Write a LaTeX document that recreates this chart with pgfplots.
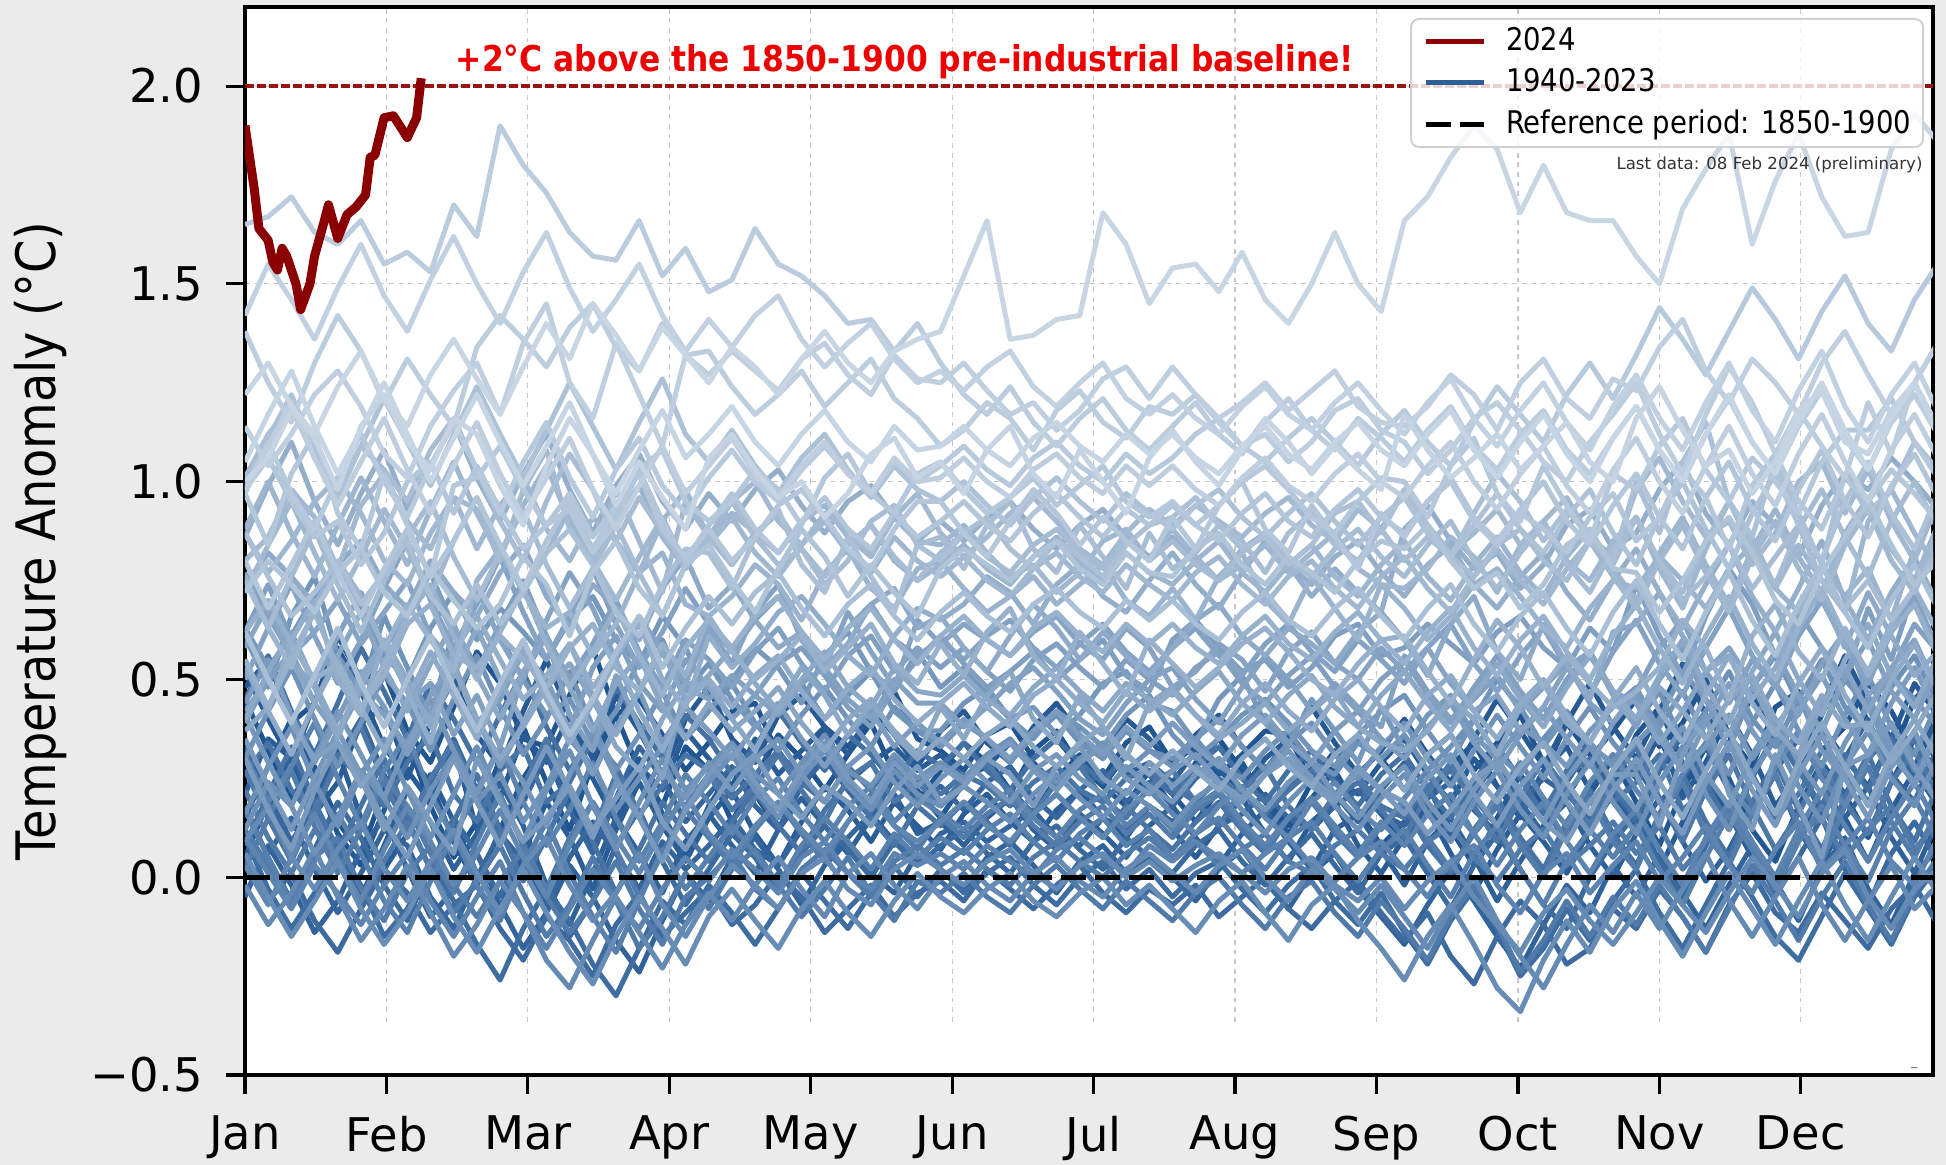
\documentclass[border=0pt]{standalone}
\usepackage{fontspec}
\setmainfont{DejaVu Sans}
\newfontfamily\condfont{DejaVu Sans}[FakeStretch=0.88]
\usepackage{pgfplots}
\usepackage{pgfplotstable}
\pgfplotsset{compat=1.18}
\definecolor{figbg}{RGB}{235,235,235}
\definecolor{cDark}{RGB}{30,84,145}
\definecolor{cLight}{RGB}{200,214,228}
\definecolor{c2024}{RGB}{139,0,0}
\definecolor{cRefRed}{RGB}{150,20,20}
\definecolor{cLeg}{RGB}{45,95,150}
\definecolor{annRed}{RGB}{238,0,0}
\tikzset{yrline/.style={line width=1.25pt, line join=round}}

% daily global mean anomaly (deg C vs 1850-1900), sampled every 5 days; one row per year
\pgfplotstableread{
year 0 5 10 15 20 25 30 35 40 45 50 55 60 65 70 75 80 85 90 95 100 105 110 115 120 125 130 135 140 145 150 155 160 165 170 175 180 185 190 195 200 205 210 215 220 225 230 235 240 245 250 255 260 265 270 275 280 285 290 295 300 305 310 315 320 325 330 335 340 345 350 355 360 365
y1940 0.45 0.32 0.20 0.28 0.14 0.06 0.22 0.35 0.18 0.05  0.14 0.30 0.38 0.24 0.12 0.29 0.41 0.27 0.18 0.33  0.27 0.14 0.25 0.36 0.30 0.22 0.31 0.39 0.26 0.19  0.27 0.34 0.29 0.21 0.32 0.37 0.28 0.23 0.31 0.26  0.18 0.29 0.35 0.27 0.20 0.13 0.24 0.32 0.25 0.16  0.09 0.20 0.28 0.34 0.23 0.15 0.26 0.39 0.31 0.22  0.36 0.43 0.29 0.21 0.34 0.46 0.38 0.27 0.41 0.53  0.39 0.30 0.45 0.51
y1942 0.15 0.28 0.40 0.26 0.11 0.03 0.17 0.31 0.24 0.09  -0.02 0.12 0.25 0.34 0.20 0.08 0.19 0.30 0.16 0.05  0.18 0.27 0.21 0.12 0.24 0.33 0.25 0.17 0.28 0.22  0.15 0.24 0.30 0.22 0.16 0.25 0.31 0.23 0.18 0.27  0.21 0.14 0.22 0.29 0.19 0.11 0.20 0.27 0.17 0.08  0.14 0.23 0.12 0.03 0.15 0.26 0.18 0.09 0.21 0.30  0.19 0.08 0.22 0.33 0.25 0.12 0.04 0.18 0.29 0.21  0.10 0.24 0.35 0.26
y1944 0.52 0.40 0.29 0.44 0.58 0.47 0.33 0.25 0.39 0.50  0.36 0.28 0.42 0.55 0.41 0.30 0.46 0.37 0.26 0.40  0.48 0.35 0.29 0.41 0.46 0.38 0.31 0.43 0.36 0.28  0.37 0.42 0.34 0.29 0.38 0.44 0.36 0.30 0.40 0.35  0.28 0.36 0.41 0.33 0.27 0.35 0.43 0.34 0.26 0.32  0.40 0.31 0.24 0.35 0.45 0.37 0.28 0.39 0.49 0.38  0.30 0.42 0.54 0.41 0.33 0.47 0.39 0.28 0.43 0.56  0.44 0.35 0.49 0.41
y1946 0.30 0.18 0.07 0.20 0.32 0.15 0.02 0.11 0.26 0.14  0.01 -0.08 0.06 0.19 0.10 -0.03 0.12 0.24 0.13 0.04  0.15 0.22 0.11 0.03 0.14 0.23 0.17 0.09 0.19 0.13  0.07 0.16 0.21 0.14 0.09 0.17 0.22 0.15 0.10 0.18  0.12 0.05 0.13 0.20 0.11 0.04 0.14 0.19 0.08 0.01  0.10 0.17 0.06 -0.04 0.07 0.16 0.09 0.01 0.12 0.21  0.13 0.02 0.14 0.25 0.16 0.05 -0.03 0.10 0.22 0.15  0.04 0.17 0.27 0.18
y1948 0.05 0.19 0.31 0.17 0.06 -0.05 0.08 0.22 0.14 0.02  0.11 0.24 0.13 -0.02 -0.12 0.01 0.15 0.06 -0.04 0.09  0.16 0.08 0.01 0.12 0.20 0.13 0.06 0.15 0.21 0.11  0.14 0.08 0.15 0.20 0.12 0.07 0.16 0.11 0.05 0.13  0.18 0.10 0.03 0.11 0.17 0.09 0.02 0.12 0.16 0.07  -0.02 0.09 0.15 0.05 -0.06 0.04 0.13 0.19 0.08 0.00  0.11 0.20 0.09 -0.01 0.07 0.18 0.26 0.12 0.03 0.15  0.23 0.10 0.01 0.14
y1950 -0.05 0.08 -0.02 -0.14 -0.06 0.07 0.15 0.02 -0.10 -0.03  0.06 -0.07 -0.18 -0.09 0.03 -0.05 -0.16 -0.24 -0.11 0.01  -0.06 0.05 0.10 0.02 -0.07 0.03 0.09 0.01 -0.04 0.06  0.02 -0.03 0.05 0.09 0.03 -0.04 0.04 0.08 0.01 0.05  0.00 -0.06 0.02 0.07 -0.01 -0.08 0.01 0.06 -0.03 -0.10  -0.17 -0.07 0.02 -0.06 -0.15 -0.23 -0.12 -0.02 -0.09 0.03  -0.05 0.06 -0.04 -0.13 -0.02 0.08 -0.01 -0.11 0.02 0.10  -0.03 -0.12 0.01 0.07
y1952 0.33 0.21 0.09 0.18 0.30 0.40 0.26 0.13 0.24 0.35  0.22 0.10 0.19 0.31 0.17 0.06 0.20 0.33 0.25 0.14  0.21 0.28 0.18 0.12 0.23 0.30 0.22 0.15 0.25 0.19  0.23 0.17 0.24 0.28 0.20 0.15 0.22 0.27 0.19 0.24  0.18 0.25 0.30 0.22 0.16 0.23 0.28 0.21 0.14 0.22  0.29 0.18 0.10 0.21 0.30 0.19 0.11 0.24 0.33 0.22  0.14 0.27 0.36 0.23 0.12 0.25 0.37 0.28 0.16 0.30  0.40 0.26 0.19 0.33
y1954 0.18 0.05 -0.06 0.07 0.19 0.10 -0.02 -0.11 0.03 0.15  0.06 -0.05 0.09 -0.03 -0.15 -0.06 0.08 0.17 0.04 -0.07  0.02 0.11 0.05 -0.04 0.06 0.13 0.07 0.00 0.09 0.03  0.08 0.12 0.06 0.01 0.09 0.13 0.07 0.02 0.10 0.05  0.01 0.08 0.12 0.04 -0.02 0.05 0.11 0.03 -0.04 0.06  0.10 0.01 -0.08 0.03 0.11 0.02 -0.07 -0.13 0.00 0.09  0.16 0.04 -0.05 0.08 0.19 0.07 -0.04 0.05 0.15 0.02  -0.07 0.06 0.14 0.04
y1956 0.10 -0.03 -0.13 -0.04 0.07 -0.02 -0.15 -0.08 0.04 -0.06  -0.17 -0.26 -0.13 -0.03 -0.11 -0.22 -0.30 -0.18 -0.06 -0.12  -0.02 -0.09 -0.17 -0.08 0.01 -0.06 -0.13 -0.04 0.03 -0.05  0.02 -0.04 0.01 0.05 -0.02 -0.07 0.00 0.04 -0.03 0.02  -0.05 0.01 0.04 -0.03 -0.09 -0.02 0.03 -0.06 -0.12 -0.04  -0.14 -0.22 -0.11 -0.03 -0.13 -0.25 -0.18 -0.08 -0.16 -0.06  0.02 -0.09 -0.18 -0.07 0.04 -0.05 -0.15 -0.21 -0.10 0.01  -0.08 -0.17 -0.05 0.03
y1958 0.45 0.56 0.42 0.31 0.44 0.58 0.47 0.35 0.49 0.40  0.29 0.41 0.52 0.38 0.27 0.36 0.48 0.39 0.30 0.41  0.35 0.26 0.33 0.42 0.34 0.27 0.36 0.31 0.24 0.32  0.28 0.34 0.27 0.22 0.30 0.35 0.29 0.24 0.31 0.26  0.21 0.28 0.33 0.25 0.19 0.27 0.32 0.24 0.18 0.26  0.31 0.22 0.15 0.24 0.33 0.25 0.16 0.27 0.34 0.23  0.15 0.28 0.37 0.24 0.13 0.26 0.36 0.27 0.18 0.31  0.22 0.35 0.27 0.19
y1960 0.08 0.21 0.33 0.19 0.07 0.18 0.30 0.15 0.02 0.14  0.26 0.12 -0.01 0.10 0.22 0.09 -0.04 0.07 0.19 0.11  0.04 0.14 0.22 0.13 0.06 0.17 0.24 0.15 0.08 0.18  0.13 0.19 0.14 0.08 0.16 0.21 0.15 0.10 0.18 0.12  0.07 0.14 0.19 0.12 0.06 0.15 0.20 0.11 0.05 0.13  0.18 0.08 0.01 0.12 0.20 0.10 0.02 0.14 0.22 0.11  0.03 0.16 0.26 0.14 0.05 0.19 0.29 0.17 0.07 0.20  0.31 0.18 0.09 0.23
y1962 0.27 0.15 0.04 0.17 0.29 0.38 0.24 0.12 0.25 0.34  0.20 0.09 0.23 0.35 0.21 0.11 0.26 0.16 0.05 0.18  0.26 0.17 0.23 0.31 0.22 0.14 0.25 0.29 0.19 0.24  0.18 0.25 0.29 0.21 0.16 0.24 0.28 0.20 0.15 0.23  0.27 0.19 0.13 0.22 0.28 0.18 0.12 0.21 0.26 0.17  0.10 0.21 0.29 0.18 0.09 0.20 0.30 0.22 0.13 0.25  0.33 0.20 0.09 0.22 0.31 0.18 0.07 0.16 0.28 0.19  0.11 0.24 0.32 0.21
y1964 0.22 0.10 0.01 0.12 0.05 -0.06 0.04 0.14 0.02 -0.09  -0.01 0.08 -0.04 -0.15 -0.07 0.05 -0.06 -0.18 -0.10 0.01  -0.08 0.02 0.07 -0.02 -0.10 -0.03 0.05 -0.04 -0.11 -0.01  -0.04 0.01 -0.05 -0.09 -0.02 0.03 -0.03 -0.08 -0.01 -0.06  -0.11 -0.04 0.00 -0.07 -0.13 -0.05 -0.01 -0.09 -0.15 -0.06  -0.13 -0.21 -0.10 -0.02 -0.12 -0.24 -0.16 -0.06 -0.15 -0.05  -0.12 -0.02 -0.10 -0.19 -0.08 0.03 -0.06 -0.16 -0.05 0.04  -0.07 -0.16 -0.04 0.05
y1966 0.02 0.15 0.27 0.13 0.01 0.12 0.25 0.18 0.06 -0.04  0.09 0.21 0.08 -0.03 0.10 0.19 0.07 -0.05 0.06 0.17  0.10 0.03 0.12 0.19 0.11 0.04 0.14 0.21 0.13 0.07  0.15 0.10 0.16 0.20 0.13 0.08 0.14 0.18 0.11 0.16  0.10 0.17 0.21 0.13 0.07 0.15 0.19 0.12 0.05 0.13  0.19 0.10 0.02 0.11 0.18 0.08 0.00 0.12 0.20 0.09  0.02 0.15 0.24 0.11 0.03 0.16 0.26 0.13 0.04 0.18  0.28 0.14 0.05 0.17
y1968 0.17 0.05 -0.07 0.04 0.16 0.06 -0.06 -0.14 -0.01 0.11  -0.02 -0.11 0.03 0.14 0.01 -0.10 -0.19 -0.06 0.07 -0.03  0.05 0.13 0.06 -0.02 0.08 0.15 0.09 0.02 0.11 0.05  0.10 0.06 0.12 0.16 0.09 0.04 0.11 0.15 0.08 0.12  0.05 0.11 0.15 0.08 0.02 0.10 0.14 0.06 -0.01 0.07  0.12 0.03 -0.05 0.06 0.13 0.02 -0.07 0.04 0.12 0.05  0.13 0.02 -0.07 0.05 0.16 0.07 -0.03 0.09 0.18 0.08  -0.01 0.12 0.20 0.09
y1970 0.31 0.19 0.28 0.39 0.25 0.13 0.27 0.36 0.21 0.10  0.22 0.33 0.19 0.08 0.17 0.29 0.15 0.04 0.14 0.26  0.19 0.11 0.20 0.25 0.16 0.09 0.18 0.23 0.14 0.20  0.16 0.12 0.18 0.22 0.15 0.10 0.17 0.21 0.13 0.18  0.12 0.18 0.22 0.14 0.08 0.15 0.20 0.13 0.06 0.14  0.08 0.16 0.21 0.11 0.03 0.12 0.19 0.09 0.01 0.11  0.17 0.07 -0.02 0.10 0.19 0.09 0.00 0.12 0.22 0.13  0.04 0.15 0.24 0.13
y1972 0.03 -0.07 0.05 0.16 0.04 -0.06 0.07 0.18 0.09 -0.02  0.06 0.17 0.05 -0.05 0.08 0.19 0.10 0.01 0.12 0.21  0.11 0.05 0.13 0.19 0.12 0.06 0.14 0.20 0.13 0.09  0.14 0.19 0.13 0.09 0.16 0.21 0.15 0.10 0.17 0.22  0.16 0.11 0.18 0.23 0.15 0.10 0.19 0.24 0.17 0.12  0.20 0.27 0.18 0.11 0.21 0.29 0.20 0.13 0.24 0.31  0.22 0.15 0.26 0.34 0.23 0.16 0.28 0.37 0.25 0.18  0.30 0.39 0.27 0.34
y1974 -0.02 -0.12 -0.04 0.07 -0.05 -0.16 -0.08 0.03 -0.09 -0.20  -0.12 -0.01 -0.09 -0.21 -0.28 -0.16 -0.05 -0.14 -0.23 -0.12  -0.04 -0.11 -0.02 0.05 -0.03 -0.10 0.01 0.06 -0.02 -0.08  0.00 0.04 -0.02 -0.06 0.01 0.05 -0.01 -0.05 0.02 0.06  0.01 -0.04 0.03 0.07 0.00 -0.06 0.02 -0.03 -0.09 -0.02  -0.10 -0.18 -0.08 0.00 -0.11 -0.20 -0.28 -0.17 -0.07 -0.14  -0.04 -0.13 -0.03 0.06 -0.06 -0.15 -0.05 0.05 -0.07 -0.16  -0.06 0.03 -0.08 -0.02
y1976 0.06 -0.05 -0.15 -0.06 0.04 -0.08 -0.17 -0.09 0.02 -0.10  -0.19 -0.08 0.02 -0.09 -0.19 -0.27 -0.15 -0.05 -0.13 -0.22  -0.10 -0.03 -0.11 -0.18 -0.08 -0.01 -0.09 -0.15 -0.06 0.01  -0.05 -0.09 -0.03 0.01 -0.06 -0.10 -0.04 0.00 -0.07 -0.02  -0.08 -0.14 -0.06 -0.01 -0.09 -0.16 -0.07 -0.02 -0.11 -0.18  -0.26 -0.15 -0.07 -0.17 -0.28 -0.34 -0.21 -0.11 -0.19 -0.08  -0.01 -0.11 -0.20 -0.09 0.01 -0.08 -0.17 -0.06 0.04 -0.07  -0.16 -0.05 0.05 -0.04
y1978 0.16 0.28 0.38 0.24 0.13 0.26 0.35 0.22 0.10 0.21  0.33 0.20 0.09 0.22 0.32 0.18 0.07 0.19 0.30 0.17  0.24 0.31 0.22 0.15 0.25 0.32 0.23 0.17 0.27 0.21  0.18 0.23 0.19 0.14 0.21 0.26 0.20 0.15 0.22 0.18  0.13 0.20 0.24 0.17 0.11 0.19 0.25 0.18 0.12 0.20  0.26 0.16 0.09 0.19 0.27 0.17 0.10 0.21 0.29 0.19  0.11 0.24 0.33 0.21 0.12 0.26 0.35 0.23 0.14 0.28  0.37 0.25 0.18 0.30
y1980 0.30 0.42 0.53 0.40 0.28 0.39 0.51 0.44 0.32 0.45  0.56 0.43 0.31 0.40 0.52 0.38 0.27 0.36 0.47 0.35  0.42 0.49 0.39 0.32 0.41 0.48 0.40 0.33 0.43 0.37  0.33 0.39 0.35 0.29 0.36 0.41 0.34 0.30 0.37 0.32  0.28 0.35 0.40 0.33 0.27 0.34 0.39 0.31 0.25 0.33  0.39 0.30 0.23 0.32 0.41 0.33 0.25 0.35 0.43 0.34  0.27 0.38 0.47 0.35 0.26 0.39 0.49 0.37 0.28 0.41  0.51 0.38 0.31 0.44
y1982 0.41 0.29 0.18 0.30 0.42 0.31 0.20 0.34 0.45 0.32  0.21 0.33 0.24 0.13 0.26 0.37 0.25 0.15 0.27 0.20  0.29 0.22 0.30 0.35 0.26 0.19 0.28 0.33 0.24 0.18  0.25 0.30 0.24 0.19 0.27 0.31 0.25 0.21 0.28 0.23  0.19 0.26 0.30 0.22 0.17 0.24 0.29 0.21 0.15 0.23  0.28 0.19 0.12 0.22 0.30 0.21 0.14 0.25 0.33 0.24  0.17 0.29 0.38 0.26 0.18 0.31 0.40 0.29 0.21 0.34  0.43 0.31 0.24 0.37
y1984 0.35 0.23 0.12 0.25 0.37 0.26 0.14 0.05 0.18 0.30  0.19 0.08 0.21 0.33 0.22 0.10 0.24 0.15 0.04 0.17  0.26 0.33 0.24 0.17 0.27 0.34 0.25 0.19 0.29 0.23  0.28 0.24 0.30 0.34 0.27 0.22 0.29 0.33 0.25 0.21  0.27 0.31 0.24 0.19 0.26 0.32 0.25 0.20 0.28 0.22  0.16 0.25 0.31 0.21 0.13 0.23 0.30 0.19 0.11 0.22  0.30 0.19 0.11 0.24 0.34 0.22 0.13 0.26 0.36 0.25  0.15 0.28 0.37 0.24
y1986 0.44 0.55 0.41 0.29 0.40 0.52 0.43 0.31 0.42 0.54  0.40 0.28 0.39 0.50 0.37 0.26 0.38 0.47 0.34 0.43  0.37 0.30 0.38 0.44 0.35 0.28 0.36 0.42 0.33 0.39  0.34 0.40 0.35 0.30 0.37 0.42 0.36 0.31 0.38 0.33  0.39 0.33 0.28 0.36 0.41 0.34 0.29 0.37 0.42 0.35  0.30 0.38 0.44 0.34 0.27 0.36 0.43 0.35 0.28 0.39  0.46 0.35 0.27 0.39 0.49 0.37 0.29 0.42 0.51 0.40  0.31 0.44 0.53 0.41
}\rawA

\pgfplotstableread{
year 0 5 10 15 20 25 30 35 40 45 50 55 60 65 70 75 80 85 90 95 100 105 110 115 120 125 130 135 140 145 150 155 160 165 170 175 180 185 190 195 200 205 210 215 220 225 230 235 240 245 250 255 260 265 270 275 280 285 290 295 300 305 310 315 320 325 330 335 340 345 350 355 360 365
y1988 0.62 0.74 0.60 0.49 0.61 0.72 0.58 0.66 0.77 0.63  0.52 0.64 0.75 0.61 0.50 0.59 0.70 0.57 0.48 0.60  0.55 0.48 0.57 0.63 0.54 0.47 0.56 0.61 0.52 0.58  0.53 0.58 0.52 0.47 0.55 0.59 0.53 0.48 0.55 0.50  0.46 0.53 0.57 0.49 0.44 0.51 0.56 0.48 0.42 0.50  0.55 0.46 0.39 0.48 0.56 0.47 0.40 0.50 0.57 0.46  0.38 0.50 0.58 0.45 0.36 0.48 0.57 0.46 0.37 0.51  0.60 0.47 0.40 0.53
y1990 0.50 0.63 0.74 0.61 0.49 0.60 0.73 0.85 0.70 0.58  0.69 0.81 0.67 0.55 0.66 0.78 0.64 0.53 0.62 0.73  0.64 0.57 0.65 0.71 0.62 0.55 0.63 0.69 0.60 0.56  0.60 0.55 0.61 0.65 0.58 0.53 0.59 0.64 0.57 0.52  0.58 0.63 0.56 0.51 0.59 0.64 0.57 0.52 0.60 0.55  0.49 0.58 0.64 0.54 0.47 0.56 0.63 0.53 0.46 0.57  0.65 0.54 0.46 0.58 0.68 0.56 0.48 0.61 0.70 0.59  0.49 0.62 0.71 0.58
y1992 0.58 0.69 0.55 0.44 0.56 0.67 0.53 0.42 0.54 0.64  0.51 0.40 0.52 0.61 0.48 0.37 0.49 0.56 0.43 0.35  0.44 0.37 0.42 0.48 0.39 0.32 0.40 0.45 0.36 0.30  0.35 0.30 0.36 0.40 0.33 0.28 0.34 0.38 0.31 0.26  0.32 0.27 0.22 0.30 0.35 0.28 0.23 0.31 0.36 0.29  0.22 0.31 0.36 0.26 0.19 0.28 0.34 0.24 0.16 0.27  0.35 0.24 0.15 0.27 0.37 0.25 0.16 0.29 0.39 0.28  0.18 0.31 0.40 0.30
y1994 0.40 0.52 0.62 0.49 0.37 0.48 0.60 0.50 0.38 0.51  0.63 0.50 0.39 0.48 0.59 0.46 0.36 0.47 0.57 0.45  0.51 0.58 0.49 0.42 0.50 0.57 0.48 0.43 0.53 0.47  0.46 0.51 0.45 0.41 0.48 0.53 0.47 0.42 0.49 0.45  0.41 0.47 0.52 0.44 0.39 0.46 0.51 0.43 0.38 0.46  0.52 0.44 0.37 0.46 0.54 0.45 0.38 0.48 0.56 0.47  0.40 0.51 0.60 0.48 0.39 0.52 0.62 0.50 0.41 0.55  0.64 0.51 0.43 0.56
y1996 0.53 0.42 0.31 0.44 0.55 0.43 0.32 0.45 0.57 0.46  0.35 0.47 0.58 0.45 0.34 0.44 0.55 0.42 0.32 0.44  0.50 0.43 0.51 0.56 0.47 0.40 0.48 0.53 0.45 0.39  0.44 0.49 0.43 0.38 0.46 0.50 0.44 0.39 0.47 0.42  0.47 0.41 0.36 0.44 0.49 0.42 0.37 0.45 0.50 0.43  0.37 0.46 0.51 0.42 0.35 0.44 0.50 0.41 0.34 0.45  0.53 0.42 0.34 0.46 0.56 0.44 0.36 0.49 0.58 0.46  0.37 0.50 0.59 0.47
y1998 0.86 0.99 1.10 0.95 0.84 0.97 1.08 0.93 1.04 1.15  1.01 0.90 1.02 1.12 0.98 0.87 0.99 1.07 0.95 0.88  0.97 0.90 0.98 1.03 0.94 0.87 0.95 0.99 0.91 0.85  0.90 0.85 0.91 0.95 0.88 0.83 0.89 0.93 0.86 0.81  0.86 0.80 0.75 0.83 0.87 0.79 0.74 0.81 0.85 0.77  0.71 0.79 0.84 0.74 0.68 0.76 0.82 0.72 0.65 0.75  0.83 0.72 0.63 0.74 0.84 0.71 0.62 0.73 0.85 0.70  0.60 0.72 0.81 0.69
y2000 0.55 0.43 0.56 0.67 0.53 0.42 0.54 0.66 0.74 0.61  0.50 0.62 0.73 0.59 0.48 0.57 0.68 0.56 0.46 0.58  0.65 0.58 0.66 0.71 0.62 0.55 0.63 0.68 0.60 0.54  0.61 0.66 0.60 0.56 0.63 0.67 0.61 0.57 0.64 0.59  0.64 0.58 0.54 0.61 0.66 0.59 0.55 0.62 0.67 0.60  0.54 0.62 0.68 0.58 0.51 0.60 0.66 0.57 0.50 0.61  0.69 0.58 0.49 0.61 0.71 0.59 0.50 0.63 0.73 0.61  0.52 0.64 0.73 0.62
y2002 0.88 1.00 0.87 0.76 0.89 1.01 0.90 0.79 0.93 1.05  0.92 0.81 0.94 1.04 0.90 0.79 0.91 0.99 0.86 0.78  0.86 0.79 0.87 0.92 0.83 0.76 0.84 0.89 0.80 0.75  0.79 0.84 0.78 0.74 0.81 0.86 0.80 0.75 0.82 0.77  0.74 0.80 0.85 0.77 0.72 0.79 0.84 0.76 0.71 0.79  0.85 0.76 0.70 0.79 0.86 0.77 0.71 0.81 0.88 0.78  0.70 0.82 0.91 0.79 0.69 0.83 0.93 0.81 0.72 0.87  0.96 0.83 0.75 0.89
y2004 0.72 0.84 0.95 0.82 0.70 0.81 0.93 0.83 0.71 0.85  0.96 0.83 0.72 0.82 0.93 0.80 0.70 0.81 0.91 0.79  0.84 0.91 0.82 0.76 0.84 0.90 0.82 0.77 0.86 0.80  0.76 0.81 0.75 0.71 0.78 0.82 0.76 0.72 0.79 0.74  0.70 0.77 0.81 0.74 0.69 0.76 0.80 0.73 0.68 0.76  0.81 0.73 0.67 0.76 0.83 0.75 0.69 0.78 0.85 0.76  0.68 0.80 0.89 0.77 0.67 0.81 0.90 0.78 0.70 0.84  0.93 0.80 0.72 0.86
y2006 0.75 0.63 0.76 0.88 0.74 0.62 0.75 0.86 0.95 0.81  0.70 0.82 0.93 0.79 0.68 0.78 0.89 0.77 0.66 0.79  0.86 0.79 0.87 0.92 0.83 0.76 0.84 0.89 0.81 0.75  0.82 0.87 0.81 0.77 0.84 0.88 0.82 0.78 0.85 0.80  0.85 0.79 0.75 0.82 0.87 0.80 0.76 0.83 0.88 0.81  0.76 0.84 0.90 0.80 0.73 0.82 0.89 0.79 0.72 0.83  0.91 0.80 0.72 0.85 0.95 0.83 0.74 0.88 0.98 0.86  0.76 0.90 1.00 0.88
y2008 0.62 0.50 0.39 0.51 0.63 0.49 0.38 0.50 0.61 0.48  0.37 0.49 0.60 0.47 0.36 0.45 0.57 0.66 0.53 0.63  0.71 0.64 0.72 0.77 0.68 0.61 0.69 0.74 0.66 0.60  0.67 0.72 0.66 0.62 0.69 0.73 0.67 0.63 0.70 0.65  0.70 0.64 0.60 0.67 0.72 0.65 0.61 0.68 0.73 0.66  0.60 0.68 0.74 0.64 0.57 0.66 0.72 0.63 0.56 0.67  0.75 0.64 0.55 0.67 0.77 0.65 0.56 0.69 0.79 0.67  0.58 0.70 0.79 0.68
y2010 0.98 1.11 1.22 1.08 0.96 1.09 1.21 1.10 0.99 1.12  1.24 1.12 1.01 1.13 1.25 1.14 1.03 1.15 1.26 1.12  1.05 1.13 1.04 0.97 1.06 1.12 1.03 0.96 1.04 0.98  0.95 1.00 0.94 0.89 0.96 1.01 0.95 0.90 0.97 0.92  0.88 0.94 0.98 0.91 0.86 0.92 0.97 0.90 0.84 0.91  0.96 0.87 0.81 0.89 0.97 0.88 0.82 0.91 0.98 0.87  0.79 0.91 1.00 0.88 0.78 0.92 1.02 0.89 0.80 0.95  1.05 0.92 0.83 0.97
y2012 0.80 0.68 0.79 0.90 0.77 0.66 0.78 0.88 0.76 0.85  0.96 0.84 0.73 0.85 0.95 0.83 0.93 1.03 0.90 0.80  0.89 0.97 0.88 0.82 0.90 0.96 0.88 0.83 0.92 0.86  0.90 0.95 0.89 0.85 0.92 0.97 0.91 0.86 0.93 0.89  0.94 0.89 0.85 0.92 0.97 0.90 0.86 0.93 0.98 0.91  0.87 0.95 1.01 0.91 0.85 0.93 1.00 0.90 0.84 0.94  1.02 0.91 0.83 0.96 1.05 0.93 0.85 0.98 1.08 0.95  0.86 0.99 1.07 0.96
y2015 0.98 1.10 0.97 0.88 1.01 1.12 1.00 0.91 1.04 1.15  1.03 0.92 1.05 1.15 1.01 0.91 1.03 1.11 0.99 0.92  1.01 1.08 1.00 0.95 1.03 1.09 1.02 0.97 1.05 1.00  1.04 1.09 1.03 0.99 1.06 1.10 1.04 1.00 1.07 1.02  1.06 1.12 1.16 1.09 1.05 1.11 1.16 1.10 1.04 1.12  1.18 1.10 1.04 1.15 1.24 1.17 1.10 1.22 1.30 1.21  1.32 1.44 1.36 1.27 1.38 1.49 1.41 1.31 1.43 1.52  1.40 1.33 1.46 1.55
y2016 1.65 1.67 1.72 1.63 1.60 1.66 1.55 1.58 1.53 1.70  1.62 1.90 1.80 1.73 1.63 1.57 1.56 1.66 1.52 1.59  1.48 1.51 1.64 1.55 1.52 1.47 1.40 1.41 1.33 1.40  1.30 1.22 1.17 1.24 1.15 1.09 1.16 1.21 1.13 1.08  1.14 1.20 1.12 1.07 1.15 1.21 1.13 1.08 1.16 1.11  1.05 1.13 1.19 1.09 1.03 1.12 1.18 1.08 1.02 1.11  1.19 1.08 1.00 1.12 1.21 1.10 1.02 1.14 1.23 1.11  1.03 1.15 1.22 1.12
y2018 0.97 1.09 1.20 1.06 0.94 1.05 1.16 1.03 0.92 1.04  1.15 1.02 0.91 1.01 1.11 0.98 0.88 0.99 1.09 0.97  1.04 1.11 1.02 0.96 1.04 1.10 1.02 0.97 1.06 1.00  1.01 1.06 1.00 0.96 1.03 1.07 1.01 0.97 1.04 0.99  1.04 0.98 0.94 1.01 1.06 0.99 0.95 1.02 1.07 1.00  0.96 1.04 1.10 1.00 0.93 1.02 1.09 0.99 0.92 1.03  1.11 1.00 0.92 1.04 1.14 1.02 0.94 1.07 1.17 1.05  0.95 1.08 1.17 1.06
y2020 1.42 1.55 1.46 1.36 1.49 1.60 1.47 1.38 1.51 1.62  1.50 1.40 1.53 1.63 1.49 1.38 1.46 1.55 1.42 1.33  1.41 1.34 1.42 1.47 1.36 1.29 1.35 1.40 1.31 1.25  1.28 1.23 1.29 1.33 1.24 1.19 1.25 1.30 1.21 1.17  1.22 1.16 1.12 1.19 1.24 1.17 1.13 1.20 1.25 1.18  1.12 1.20 1.26 1.16 1.09 1.18 1.25 1.15 1.08 1.19  1.27 1.16 1.08 1.20 1.30 1.18 1.10 1.23 1.33 1.19  1.10 1.22 1.30 1.18
y2022 1.05 1.17 1.28 1.14 1.02 1.13 1.25 1.12 1.00 1.11  1.22 1.10 0.99 1.09 1.20 1.07 0.97 1.08 1.18 1.06  1.12 1.19 1.10 1.04 1.12 1.18 1.10 1.05 1.14 1.08  1.09 1.14 1.08 1.04 1.11 1.15 1.09 1.05 1.12 1.07  1.12 1.06 1.02 1.09 1.14 1.07 1.03 1.10 1.15 1.08  1.04 1.12 1.18 1.08 1.01 1.10 1.17 1.07 1.00 1.11  1.19 1.08 1.00 1.12 1.22 1.10 1.02 1.15 1.25 1.13  1.03 1.16 1.25 1.14
y2023 1.22 1.30 1.19 1.12 1.24 1.33 1.21 1.14 1.27 1.36  1.26 1.17 1.29 1.40 1.31 1.45 1.37 1.28 1.39 1.32  1.25 1.34 1.29 1.22 1.31 1.38 1.30 1.25 1.33 1.36  1.38 1.52 1.66 1.36 1.37 1.41 1.42 1.68 1.60 1.45  1.54 1.55 1.48 1.58 1.46 1.40 1.50 1.63 1.50 1.43  1.66 1.72 1.82 1.90 1.84 1.68 1.80 1.68 1.66 1.66  1.57 1.50 1.69 1.79 1.88 1.60 1.76 1.88 1.72 1.62  1.63 1.84 1.93 1.86
}\rawB

\pgfplotstableread{
year 0 5 10 15 20 25 30 35 40 45 50 55 60 65 70 75 80 85 90 95 100 105 110 115 120 125 130 135 140 145 150 155 160 165 170 175 180 185 190 195 200 205 210 215 220 225 230 235 240 245 250 255 260 265 270 275 280 285 290 295 300 305 310 315 320 325 330 335 340 345 350 355 360 365
y1941 0.48 0.55 0.39 0.44 0.61 0.50 0.52 0.37 0.29 0.43  0.57 0.49 0.35 0.33 0.46 0.58 0.41 0.45 0.36 0.27  0.34 0.42 0.44 0.31 0.26 0.38 0.33 0.40 0.47 0.35  0.32 0.27 0.36 0.39 0.30 0.35 0.28 0.25 0.34 0.38  0.29 0.33 0.26 0.31 0.37 0.36 0.24 0.28 0.35 0.30  0.22 0.31 0.36 0.27 0.34 0.41 0.29 0.20 0.30 0.37  0.45 0.33 0.39 0.50 0.36 0.28 0.43 0.47 0.32 0.38  0.49 0.42 0.31 0.40
y1945 0.21 0.35 0.30 0.16 0.24 0.39 0.43 0.27 0.19 0.33  0.12 0.20 0.36 0.29 0.41 0.25 0.14 0.28 0.22 0.37  0.30 0.23 0.35 0.26 0.32 0.38 0.24 0.29 0.33 0.27  0.31 0.25 0.28 0.34 0.29 0.23 0.30 0.33 0.26 0.29  0.24 0.32 0.27 0.22 0.30 0.35 0.28 0.25 0.21 0.29  0.35 0.26 0.19 0.30 0.23 0.16 0.27 0.33 0.22 0.31  0.25 0.36 0.20 0.29 0.41 0.31 0.18 0.26 0.38 0.30  0.23 0.35 0.28 0.40
y1951 -0.04 0.06 0.15 0.02 -0.09 0.01 0.12 0.08 -0.05 -0.13  0.00 0.11 0.04 -0.07 0.05 0.14 0.06 -0.03 0.09 0.02  0.08 0.15 0.07 0.03 0.12 0.05 0.10 0.16 0.09 0.04  0.11 0.14 0.09 0.13 0.17 0.10 0.08 0.15 0.12 0.18  0.14 0.19 0.13 0.16 0.21 0.15 0.12 0.18 0.22 0.16  0.13 0.20 0.24 0.17 0.11 0.19 0.25 0.21 0.15 0.23  0.28 0.19 0.25 0.33 0.22 0.18 0.27 0.35 0.26 0.21  0.30 0.36 0.24 0.29
y1955 0.05 -0.06 0.01 -0.11 -0.19 -0.08 0.02 -0.04 -0.14 -0.07  -0.02 -0.13 -0.21 -0.10 -0.16 -0.25 -0.12 -0.04 -0.15 -0.09  -0.03 -0.12 -0.07 0.01 -0.05 -0.14 -0.08 -0.02 -0.10 -0.04  -0.01 -0.06 0.02 -0.03 -0.08 -0.02 0.03 -0.04 -0.09 -0.03  -0.07 -0.02 -0.10 -0.05 0.00 -0.08 -0.13 -0.06 -0.01 -0.09  -0.16 -0.09 -0.20 -0.27 -0.15 -0.06 -0.12 -0.22 -0.18 -0.08  -0.13 -0.03 -0.10 -0.19 -0.07 0.01 -0.09 -0.14 -0.04 -0.11  -0.18 -0.08 -0.02 -0.12
y1961 0.26 0.34 0.22 0.15 0.31 0.25 0.18 0.29 0.36 0.21  0.14 0.27 0.33 0.19 0.24 0.35 0.28 0.16 0.23 0.31  0.27 0.20 0.26 0.32 0.24 0.19 0.28 0.22 0.30 0.25  0.21 0.26 0.23 0.18 0.24 0.28 0.22 0.19 0.25 0.27  0.23 0.19 0.25 0.21 0.16 0.22 0.27 0.20 0.24 0.18  0.15 0.23 0.27 0.20 0.13 0.21 0.17 0.26 0.30 0.19  0.24 0.31 0.17 0.22 0.34 0.26 0.15 0.21 0.32 0.27  0.19 0.28 0.35 0.24
y1965 0.12 0.03 -0.06 0.05 0.10 -0.03 -0.11 0.01 0.08 -0.02  -0.10 -0.01 0.07 -0.05 -0.14 -0.06 0.04 -0.08 -0.17 -0.05  0.00 0.06 -0.03 -0.08 0.02 0.07 0.01 -0.05 0.04 0.08  0.03 0.07 0.02 -0.02 0.05 0.09 0.04 0.00 0.06 0.10  0.05 0.09 0.03 0.07 0.11 0.04 0.01 0.08 0.12 0.06  0.02 0.09 0.13 0.05 -0.01 0.07 0.12 0.03 0.08 0.14  0.06 0.13 0.02 0.09 0.17 0.08 0.00 0.11 0.15 0.05  0.12 0.18 0.07 0.14
y1971 0.10 0.01 -0.08 0.03 -0.04 -0.12 -0.02 0.06 -0.06 -0.15  -0.05 0.04 -0.09 -0.18 -0.08 0.02 -0.06 -0.13 -0.03 0.05  -0.01 0.07 0.02 -0.04 0.05 0.09 0.01 -0.03 0.06 0.03  0.06 0.02 0.08 0.04 0.00 0.07 0.10 0.05 0.01 0.08  0.04 0.09 0.05 0.01 0.06 0.10 0.03 -0.01 0.05 0.09  0.02 -0.05 0.04 0.08 -0.02 -0.09 0.01 0.06 -0.04 0.03  0.09 -0.01 0.05 0.13 0.03 -0.04 0.07 0.14 0.02 0.08  0.15 0.04 -0.02 0.10
y1975 0.09 0.18 0.05 -0.03 0.07 0.14 0.02 -0.06 0.04 0.12  0.01 -0.09 0.03 0.10 -0.02 -0.11 -0.04 0.06 -0.07 -0.15  -0.05 0.03 -0.02 -0.08 0.01 0.05 -0.03 -0.07 0.02 0.06  0.02 -0.02 0.04 0.07 0.01 -0.03 0.03 0.06 0.00 0.04  -0.01 0.03 0.06 0.01 -0.04 0.02 0.05 -0.02 -0.06 0.00  -0.08 -0.01 0.04 -0.05 -0.12 -0.19 -0.09 -0.03 -0.11 -0.17  -0.09 0.00 -0.07 -0.14 -0.04 0.05 -0.02 -0.10 0.01 0.07  -0.05 -0.13 -0.03 0.02
y1979 0.12 0.24 0.18 0.06 0.15 0.27 0.20 0.10 0.22 0.31  0.19 0.26 0.14 0.23 0.35 0.28 0.17 0.25 0.33 0.22  0.28 0.34 0.26 0.21 0.29 0.36 0.27 0.23 0.31 0.25  0.29 0.25 0.31 0.35 0.28 0.24 0.30 0.34 0.27 0.32  0.30 0.35 0.28 0.25 0.32 0.37 0.29 0.26 0.34 0.30  0.36 0.27 0.33 0.40 0.31 0.26 0.35 0.42 0.33 0.29  0.39 0.47 0.34 0.42 0.52 0.40 0.33 0.45 0.55 0.43  0.37 0.48 0.56 0.44
}\rawC

\pgfplotstableread{
year 0 5 10 15 20 25 30 35 40 45 50 55 60 65 70 75 80 85 90 95 100 105 110 115 120 125 130 135 140 145 150 155 160 165 170 175 180 185 190 195 200 205 210 215 220 225 230 235 240 245 250 255 260 265 270 275 280 285 290 295 300 305 310 315 320 325 330 335 340 345 350 355 360 365
y1981 0.61 0.48 0.66 0.76 0.56 0.47 0.66 0.53 0.40 0.63  0.53 0.61 0.50 0.41 0.45 0.34 0.42 0.55 0.60 0.47  0.54 0.45 0.38 0.43 0.49 0.40 0.46 0.52 0.42 0.37  0.37 0.44 0.48 0.40 0.35 0.42 0.38 0.33 0.41 0.46  0.36 0.30 0.35 0.41 0.45 0.39 0.32 0.28 0.36 0.42  0.46 0.37 0.29 0.40 0.50 0.43 0.33 0.41 0.34 0.28  0.34 0.40 0.52 0.45 0.32 0.48 0.56 0.44 0.37 0.50  0.43 0.51 0.45 0.38
y1983 0.63 0.53 0.61 0.71 0.77 0.68 0.56 0.50 0.63 0.72  0.60 0.68 0.62 0.55 0.65 0.71 0.60 0.54 0.66 0.58  0.45 0.50 0.58 0.53 0.44 0.56 0.62 0.52 0.47 0.57  0.48 0.53 0.46 0.40 0.43 0.36 0.41 0.49 0.52 0.44  0.42 0.34 0.45 0.51 0.39 0.33 0.45 0.37 0.29 0.43  0.32 0.41 0.46 0.36 0.30 0.38 0.34 0.28 0.37 0.43  0.48 0.37 0.27 0.33 0.41 0.30 0.38 0.46 0.32 0.25  0.46 0.33 0.23 0.38
y1985 0.30 0.17 0.07 0.22 0.34 0.25 0.12 0.23 0.14 0.06  0.30 0.19 0.09 0.15 0.23 0.12 0.20 0.28 0.14 0.07  0.17 0.26 0.31 0.21 0.15 0.23 0.19 0.13 0.22 0.28  0.19 0.23 0.30 0.26 0.18 0.28 0.33 0.25 0.21 0.29  0.23 0.28 0.24 0.20 0.26 0.30 0.23 0.19 0.27 0.22  0.19 0.11 0.17 0.25 0.29 0.22 0.14 0.09 0.19 0.26  0.26 0.13 0.31 0.41 0.21 0.12 0.31 0.18 0.05 0.28  0.31 0.39 0.28 0.19
y1987 0.39 0.50 0.57 0.44 0.36 0.47 0.41 0.33 0.46 0.54  0.39 0.45 0.57 0.50 0.37 0.53 0.61 0.49 0.42 0.55  0.48 0.40 0.46 0.54 0.58 0.51 0.43 0.38 0.48 0.55  0.61 0.54 0.48 0.52 0.57 0.50 0.55 0.60 0.51 0.47  0.60 0.65 0.58 0.52 0.55 0.48 0.53 0.61 0.64 0.56  0.58 0.64 0.59 0.54 0.62 0.66 0.58 0.53 0.63 0.57  0.74 0.61 0.51 0.66 0.78 0.69 0.56 0.67 0.58 0.50  0.68 0.55 0.73 0.83
y1989 0.42 0.50 0.39 0.30 0.34 0.23 0.31 0.44 0.49 0.36  0.46 0.33 0.51 0.61 0.41 0.32 0.51 0.38 0.25 0.48  0.45 0.51 0.46 0.41 0.49 0.53 0.45 0.40 0.50 0.44  0.44 0.38 0.43 0.49 0.53 0.47 0.40 0.36 0.44 0.50  0.53 0.45 0.39 0.48 0.56 0.50 0.42 0.49 0.43 0.38  0.56 0.47 0.40 0.45 0.51 0.42 0.48 0.54 0.44 0.39  0.47 0.58 0.65 0.52 0.44 0.55 0.49 0.41 0.54 0.62  0.46 0.52 0.64 0.57
y1991 0.77 0.66 0.56 0.62 0.70 0.59 0.67 0.75 0.61 0.54  0.73 0.60 0.50 0.65 0.77 0.68 0.55 0.66 0.57 0.49  0.63 0.54 0.67 0.74 0.60 0.53 0.67 0.57 0.48 0.65  0.59 0.64 0.60 0.56 0.62 0.66 0.59 0.55 0.63 0.58  0.48 0.52 0.59 0.55 0.47 0.57 0.62 0.54 0.50 0.58  0.52 0.58 0.49 0.42 0.46 0.37 0.43 0.53 0.57 0.47  0.44 0.34 0.42 0.52 0.58 0.49 0.37 0.31 0.44 0.53  0.42 0.53 0.60 0.47
y1993 0.37 0.43 0.55 0.48 0.35 0.51 0.59 0.47 0.40 0.53  0.40 0.30 0.38 0.48 0.54 0.45 0.33 0.27 0.40 0.49  0.49 0.40 0.32 0.43 0.53 0.46 0.36 0.44 0.37 0.31  0.43 0.35 0.46 0.52 0.40 0.34 0.46 0.38 0.30 0.44  0.48 0.41 0.35 0.39 0.44 0.37 0.42 0.47 0.38 0.34  0.32 0.37 0.45 0.40 0.31 0.43 0.49 0.39 0.34 0.44  0.40 0.48 0.42 0.35 0.45 0.51 0.40 0.34 0.46 0.38  0.39 0.29 0.37 0.47
y1995 0.74 0.82 0.76 0.69 0.79 0.85 0.74 0.68 0.80 0.72  0.66 0.77 0.84 0.71 0.63 0.74 0.68 0.60 0.73 0.81  0.68 0.74 0.65 0.58 0.62 0.53 0.59 0.69 0.73 0.63  0.66 0.58 0.52 0.61 0.69 0.63 0.55 0.62 0.56 0.51  0.58 0.65 0.69 0.61 0.56 0.63 0.59 0.54 0.62 0.67  0.60 0.51 0.64 0.71 0.57 0.50 0.64 0.54 0.45 0.62  0.64 0.72 0.61 0.52 0.56 0.45 0.53 0.66 0.71 0.58  0.72 0.61 0.51 0.57
y1997 0.55 0.42 0.60 0.70 0.50 0.41 0.60 0.47 0.34 0.57  0.66 0.55 0.45 0.51 0.59 0.48 0.56 0.64 0.50 0.43  0.61 0.53 0.59 0.67 0.71 0.64 0.56 0.51 0.61 0.68  0.65 0.69 0.76 0.72 0.64 0.74 0.79 0.71 0.67 0.75  0.82 0.74 0.68 0.77 0.85 0.79 0.71 0.78 0.72 0.67  0.88 0.94 0.85 0.78 0.82 0.73 0.79 0.89 0.93 0.83  0.87 0.98 1.05 0.92 0.84 0.95 0.89 0.81 0.94 1.02  0.98 1.06 1.00 0.93
y1999 0.62 0.70 0.59 0.50 0.54 0.43 0.51 0.64 0.69 0.56  0.53 0.61 0.55 0.48 0.58 0.64 0.53 0.47 0.59 0.51  0.66 0.57 0.50 0.55 0.61 0.52 0.58 0.64 0.54 0.49  0.59 0.51 0.62 0.68 0.56 0.50 0.62 0.54 0.46 0.60  0.54 0.48 0.53 0.59 0.63 0.57 0.50 0.46 0.54 0.60  0.61 0.52 0.44 0.55 0.65 0.58 0.48 0.56 0.49 0.43  0.47 0.53 0.65 0.58 0.45 0.61 0.69 0.57 0.50 0.63  0.51 0.62 0.69 0.56
y2001 0.76 0.63 0.53 0.68 0.80 0.71 0.58 0.69 0.60 0.52  0.75 0.83 0.72 0.63 0.67 0.56 0.64 0.77 0.82 0.69  0.66 0.71 0.79 0.74 0.65 0.77 0.83 0.73 0.68 0.78  0.80 0.73 0.67 0.71 0.76 0.69 0.74 0.79 0.70 0.66  0.73 0.65 0.76 0.82 0.70 0.64 0.76 0.68 0.60 0.74  0.68 0.60 0.66 0.74 0.78 0.71 0.63 0.58 0.68 0.75  0.73 0.81 0.75 0.68 0.78 0.84 0.73 0.67 0.79 0.71  0.78 0.65 0.83 0.93
y2003 0.87 0.77 0.85 0.95 1.01 0.92 0.80 0.74 0.87 0.96  0.83 0.94 1.01 0.88 0.80 0.91 0.85 0.77 0.90 0.98  0.86 0.92 0.87 0.82 0.90 0.94 0.86 0.81 0.91 0.85  0.84 0.89 0.82 0.76 0.79 0.72 0.77 0.85 0.88 0.80  0.88 0.81 0.75 0.79 0.84 0.77 0.82 0.87 0.78 0.74  0.73 0.78 0.86 0.81 0.72 0.84 0.90 0.80 0.75 0.85  0.91 0.78 0.68 0.83 0.95 0.86 0.73 0.84 0.75 0.67  0.90 0.98 0.87 0.78
y2005 0.80 0.86 0.98 0.91 0.78 0.94 1.02 0.90 0.83 0.96  0.93 0.80 0.98 1.08 0.88 0.79 0.98 0.85 0.72 0.95  0.86 0.95 1.00 0.90 0.84 0.92 0.88 0.82 0.91 0.97  0.87 0.81 0.86 0.92 0.96 0.90 0.83 0.79 0.87 0.93  0.89 0.94 0.90 0.86 0.92 0.96 0.89 0.85 0.93 0.88  0.98 0.89 0.82 0.87 0.93 0.84 0.90 0.96 0.86 0.81  0.98 1.06 0.95 0.86 0.90 0.79 0.87 1.00 1.05 0.92  1.03 0.90 0.80 0.95
y2007 1.01 1.12 1.19 1.06 0.98 1.09 1.03 0.95 1.08 1.16  1.03 0.90 0.80 0.95 1.07 0.98 0.85 0.96 0.87 0.79  0.89 0.95 0.86 0.79 0.83 0.74 0.80 0.90 0.94 0.84  0.86 0.78 0.89 0.95 0.83 0.77 0.89 0.81 0.73 0.87  0.78 0.82 0.89 0.85 0.77 0.87 0.92 0.84 0.80 0.88  0.80 0.86 0.81 0.76 0.84 0.88 0.80 0.75 0.85 0.79  0.91 0.80 0.70 0.76 0.84 0.73 0.81 0.89 0.75 0.68  0.75 0.65 0.73 0.83
y2009 0.87 0.76 0.66 0.72 0.80 0.69 0.77 0.85 0.71 0.64  0.74 0.64 0.72 0.82 0.88 0.79 0.67 0.61 0.74 0.83  0.82 0.73 0.86 0.93 0.79 0.72 0.86 0.76 0.67 0.84  0.80 0.87 0.91 0.83 0.78 0.85 0.81 0.76 0.84 0.89  0.91 0.96 0.89 0.83 0.86 0.79 0.84 0.92 0.95 0.87  0.98 0.89 0.81 0.92 1.02 0.95 0.85 0.93 0.86 0.80  1.00 0.87 1.05 1.15 0.95 0.86 1.05 0.92 0.79 1.02  0.92 0.98 1.10 1.03
y2011 0.72 0.80 0.74 0.67 0.77 0.83 0.72 0.66 0.78 0.70  0.63 0.69 0.81 0.74 0.61 0.77 0.85 0.73 0.66 0.79  0.84 0.75 0.67 0.78 0.88 0.81 0.71 0.79 0.72 0.66  0.78 0.83 0.79 0.75 0.81 0.85 0.78 0.74 0.82 0.77  0.76 0.83 0.87 0.79 0.74 0.81 0.77 0.72 0.80 0.85  0.83 0.89 0.80 0.73 0.77 0.68 0.74 0.84 0.88 0.78  0.77 0.67 0.75 0.85 0.91 0.82 0.70 0.64 0.77 0.86  0.95 0.84 0.74 0.80
y2013 0.98 1.06 0.95 0.86 0.90 0.79 0.87 1.00 1.05 0.92  1.04 0.93 0.83 0.89 0.97 0.86 0.94 1.02 0.88 0.81  0.88 0.80 0.86 0.94 0.98 0.91 0.83 0.78 0.88 0.95  0.95 0.87 0.81 0.90 0.98 0.92 0.84 0.91 0.85 0.80  0.91 0.83 0.94 1.00 0.88 0.82 0.94 0.86 0.78 0.92  0.86 0.95 1.00 0.90 0.84 0.92 0.88 0.82 0.91 0.97  0.85 0.91 1.03 0.96 0.83 0.99 1.07 0.95 0.88 1.01  0.95 1.03 0.97 0.90
y2014 0.97 0.84 1.02 1.12 0.92 0.83 1.02 0.89 0.76 0.99  1.01 1.09 0.98 0.89 0.93 0.82 0.90 1.03 1.08 0.95  0.90 0.95 1.03 0.98 0.89 1.01 1.07 0.97 0.92 1.02  1.05 0.98 0.92 0.96 1.01 0.94 0.99 1.04 0.95 0.91  0.95 0.89 0.94 1.00 1.04 0.98 0.91 0.87 0.95 1.01  1.00 0.91 1.04 1.11 0.97 0.90 1.04 0.94 0.85 1.02  0.98 1.09 1.16 1.03 0.95 1.06 1.00 0.92 1.05 1.13  1.13 1.21 1.10 1.01
y2017 1.38 1.25 1.15 1.30 1.42 1.33 1.20 1.31 1.22 1.14  1.34 1.42 1.36 1.29 1.39 1.45 1.34 1.28 1.40 1.32  1.33 1.24 1.17 1.22 1.28 1.19 1.25 1.31 1.21 1.16  1.09 1.13 1.20 1.16 1.08 1.18 1.23 1.15 1.11 1.19  1.17 1.22 1.15 1.09 1.12 1.05 1.10 1.18 1.21 1.13  1.10 1.02 1.08 1.16 1.20 1.13 1.05 1.00 1.10 1.17  1.25 1.12 1.02 1.17 1.29 1.20 1.07 1.18 1.09 1.01  1.20 1.07 1.25 1.35
y2019 1.14 1.04 1.12 1.22 1.28 1.19 1.07 1.01 1.14 1.23  1.30 1.17 1.35 1.45 1.25 1.16 1.35 1.22 1.09 1.32  1.27 1.33 1.28 1.23 1.31 1.35 1.27 1.22 1.32 1.26  1.25 1.30 1.23 1.17 1.20 1.13 1.18 1.26 1.29 1.21  1.29 1.22 1.16 1.20 1.25 1.18 1.23 1.28 1.19 1.15  1.14 1.19 1.27 1.22 1.13 1.25 1.31 1.21 1.16 1.26  1.23 1.34 1.41 1.28 1.20 1.31 1.25 1.17 1.30 1.38  1.27 1.17 1.25 1.35
y2021 1.00 1.06 1.18 1.11 0.98 1.14 1.22 1.10 1.03 1.16  1.12 0.99 0.89 1.04 1.16 1.07 0.94 1.05 0.96 0.88  1.06 1.12 1.03 0.96 1.00 0.91 0.97 1.07 1.11 1.01  1.05 0.97 1.08 1.14 1.02 0.96 1.08 1.00 0.92 1.06  1.13 1.05 0.99 1.08 1.16 1.10 1.02 1.09 1.03 0.98  1.17 1.08 1.01 1.06 1.12 1.03 1.09 1.15 1.05 1.00  1.16 1.24 1.13 1.04 1.08 0.97 1.05 1.18 1.23 1.10  1.07 1.18 1.25 1.12
}\rawD

\pgfplotstabletranspose[colnames from=year]{\tA}{\rawA}
\pgfplotstabletranspose[colnames from=year]{\tB}{\rawB}
\pgfplotstabletranspose[colnames from=year]{\tC}{\rawC}
\pgfplotstabletranspose[colnames from=year]{\tD}{\rawD}

\newcommand{\yrA}[2]{\addplot[forget plot, yrline, color=cLight!#2!cDark] table[x=colnames, y=y#1] {\tA};}
\newcommand{\yrB}[2]{\addplot[forget plot, yrline, color=cLight!#2!cDark] table[x=colnames, y=y#1] {\tB};}
\newcommand{\yrC}[2]{\addplot[forget plot, yrline, color=cLight!#2!cDark] table[x=colnames, y=y#1] {\tC};}
\newcommand{\yrD}[2]{\addplot[forget plot, yrline, color=cLight!#2!cDark] table[x=colnames, y=y#1] {\tD};}

\begin{document}
\begin{tikzpicture}
\fill[figbg] (-61.25pt,-22.5pt) rectangle (425.25pt,268.75pt);
\begin{axis}[
  at={(0,0)}, anchor=south west,
  scale only axis, width=422pt, height=267pt,
  xmin=0, xmax=364, ymin=-0.5, ymax=2.2,
  axis background/.style={fill=white},
  axis line style={line width=1pt, black},
  xtick={0,30.5,61,91.5,122,152.5,183,213.5,244,274.5,305,335.5},
  xticklabels={Jan,Feb,Mar,Apr,May,Jun,Jul,Aug,Sep,Oct,Nov,Dec},
  ytick={-0.5,0,0.5,1,1.5,2},
  yticklabels={−0.5,0.0,0.5,1.0,1.5,2.0},
  tick align=outside, xtick pos=bottom, ytick pos=left,
  major tick length=4.75pt,
  major tick style={line width=0.8pt, black},
  tick label style={font=\fontsize{11.6}{13}\selectfont},
  xticklabel style={anchor=north, inner sep=0pt, yshift=-5.25pt},
  yticklabel style={anchor=east, inner sep=0pt, xshift=-5.5pt},
  ymajorgrids,
  major grid style={gray!45, line width=0.3pt, dash pattern=on 1.2pt off 1.2pt},
  ylabel={Temperature Anomaly (°C)},
  every axis y label/.style={at={(axis description cs:-0.1214,0.5)}, rotate=90, anchor=center, font=\condfont\fontsize{13.6}{16}\selectfont},
  legend style={at={(1,1)}, anchor=north east, xshift=-2.25pt, yshift=-2.75pt,
    draw=black!18, line width=0.5pt, rounded corners=2pt, fill=white, fill opacity=0.8,
    draw opacity=1, text opacity=1, font=\condfont\fontsize{7.8}{8.2}\selectfont,
    inner xsep=3pt, inner ysep=2.0pt, row sep=3.0pt, nodes={inner sep=0pt},
    /tikz/every odd column/.append style={column sep=5pt}},
  legend cell align=left,
  legend image code/.code={\draw[#1] (0pt,0pt) -- (14.5pt,0pt);},
]
% vertical grid
\pgfplotsinvokeforeach{30.5,61,91.5,122,152.5,183,213.5,244,274.5,305,335.5}{
  \draw[gray!45, line width=0.3pt, dash pattern=on 1.2pt off 1.2pt] (axis cs:#1,-0.365) -- (axis cs:#1,2.2);
}
\yrA{1940}{0}\yrC{1941}{1}\yrA{1942}{2}\yrA{1944}{5}\yrC{1945}{6}\yrA{1946}{7}\yrA{1948}{10}
\yrA{1950}{12}\yrC{1951}{13}\yrA{1952}{14}\yrA{1954}{17}\yrC{1955}{18}\yrA{1956}{19}\yrA{1958}{22}
\yrA{1960}{24}\yrC{1961}{25}\yrA{1962}{27}\yrA{1964}{29}\yrC{1965}{30}\yrA{1966}{31}\yrA{1968}{34}
\yrA{1970}{36}\yrC{1971}{37}\yrA{1972}{39}\yrA{1974}{41}\yrC{1975}{42}\yrA{1976}{43}\yrA{1978}{46}
\yrC{1979}{47}\yrA{1980}{48}\yrD{1981}{49}\yrA{1982}{51}\yrD{1983}{52}\yrA{1984}{53}\yrD{1985}{54}
\yrA{1986}{55}\yrD{1987}{57}\yrB{1988}{58}\yrD{1989}{59}\yrB{1990}{60}\yrD{1991}{61}\yrB{1992}{63}
\yrD{1993}{64}\yrB{1994}{65}\yrD{1995}{66}\yrB{1996}{67}\yrD{1997}{69}\yrB{1998}{70}\yrD{1999}{71}
\yrB{2000}{72}\yrD{2001}{73}\yrB{2002}{75}\yrD{2003}{76}\yrB{2004}{77}\yrD{2005}{78}\yrB{2006}{80}
\yrD{2007}{81}\yrB{2008}{82}\yrD{2009}{83}\yrB{2010}{84}\yrD{2011}{86}\yrB{2012}{87}\yrD{2013}{88}
\yrD{2014}{89}\yrB{2015}{90}\yrB{2016}{92}\yrD{2017}{93}\yrB{2018}{94}\yrD{2019}{95}\yrB{2020}{96}
\yrD{2021}{98}\yrB{2022}{99}\yrB{2023}{100}
% reference lines
\addplot[forget plot, cRefRed, line width=1pt, dash pattern=on 2.2pt off 0.8pt] coordinates {(0,2) (364,2)};
\addplot[forget plot, black, line width=1.35pt, dash pattern=on 6.25pt off 2.25pt] coordinates {(0,0) (364,0)};
% 2024
\addplot[forget plot, c2024, line width=2.25pt, line join=round] coordinates {
(0,1.90) (2,1.74) (3,1.64) (5,1.61) (6,1.555) (7,1.535) (8,1.59) (9,1.57) (11,1.50) (12,1.435)
(14,1.50) (15,1.57) (17,1.655) (18,1.70) (20,1.615) (22,1.675) (24,1.695) (26,1.725) (27,1.82)
(28,1.825) (30,1.92) (32,1.925) (35,1.87) (37,1.92) (38,2.02)};
\addlegendimage{line width=1.25pt, c2024}
\addlegendentry{\strut 2024}
\addlegendimage{line width=1.25pt, cLeg}
\addlegendentry{\strut 1940-2023}
\addlegendimage{line width=1.25pt, black, dash pattern=on 6.25pt off 2.25pt}
\addlegendentry{\strut Reference period: 1850-1900}
\node[anchor=base west, inner sep=0pt, text=annRed, font=\condfont\bfseries\fontsize{8.9}{10}\selectfont] at (axis cs:45.3,2.037) {+2°C above the 1850-1900 pre-industrial baseline!};
\node[anchor=base east, inner sep=0pt, text=black!80, font=\fontsize{4.15}{5}\selectfont] at (axis cs:361.9,1.788) {Last data: 08 Feb 2024 (preliminary)};
\node[inner sep=0pt, text=gray, font=\fontsize{4}{5}\selectfont] at (axis cs:360,-0.487) {–};
\end{axis}
\pgfresetboundingbox
\path[use as bounding box] (-61.25pt,-22.5pt) rectangle (425.25pt,268.75pt);
\end{tikzpicture}
\end{document}
